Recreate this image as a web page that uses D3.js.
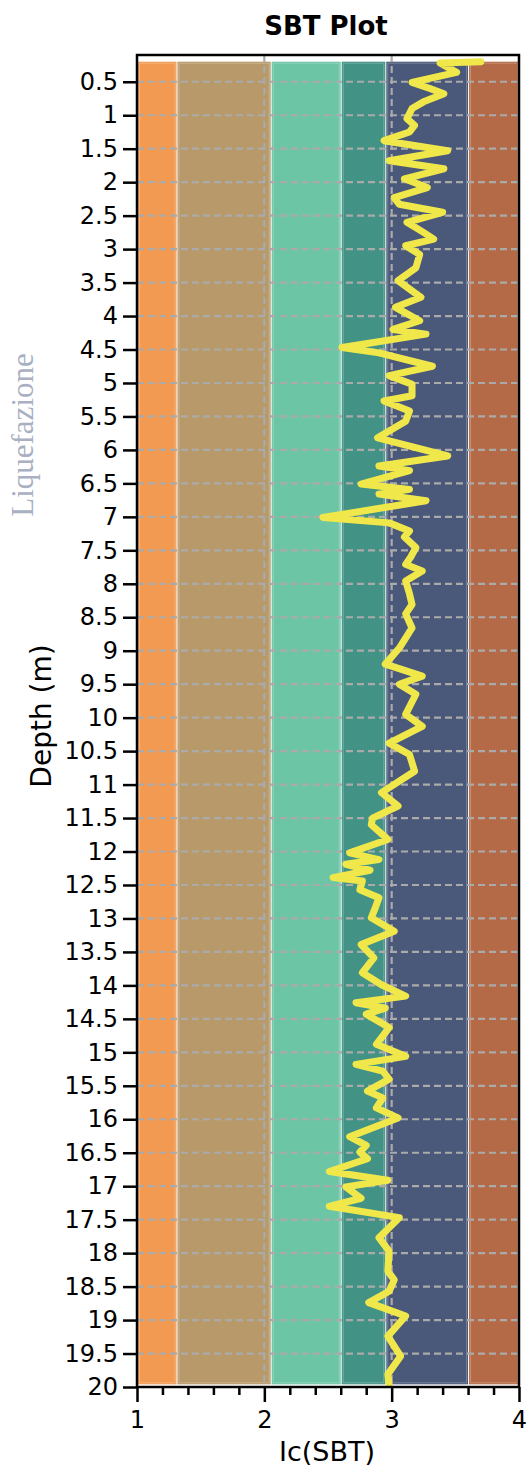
<!DOCTYPE html>
<html lang="en">
<head>
    <meta charset="UTF-8">
    <title>SBT Plot</title>
    <script src="https://d3js.org/d3.v7.min.js"></script>
    <style>
        body { margin: 0; background: #fff; }
        text { font-family: "DejaVu Sans", Verdana, sans-serif; }
    </style>
</head>
<body>
    <div id="chart-container"></div>

    <script>
        // Ic(SBT) profile
        const depth = [0.20, 0.22, 0.36, 0.51, 0.60, 0.68, 0.80, 0.90, 1.05, 1.15, 1.25, 1.38, 1.53, 1.68, 1.80, 1.95,
            2.08, 2.23, 2.33, 2.45, 2.60, 2.75, 2.85, 2.95, 3.08, 3.28, 3.47, 3.72, 3.87, 4.07, 4.20, 4.27,
            4.47, 4.55, 4.75, 4.89, 5.02, 5.19, 5.27, 5.42, 5.57, 5.82, 6.09, 6.24, 6.31, 6.51, 6.59, 6.66,
            6.76, 7.01, 7.09, 7.21, 7.30, 7.46, 7.60, 7.71, 7.81, 7.96, 8.15, 8.31, 8.45, 8.66, 8.96, 9.20,
            9.38, 9.50, 9.65, 9.95, 10.13, 10.38, 10.55, 10.80, 11.12, 11.32, 11.50, 11.60, 11.82, 12.02, 12.12, 12.19,
            12.28, 12.39, 12.44, 12.57, 12.69, 12.85, 12.99, 13.19, 13.39, 13.59, 13.81, 13.99, 14.16, 14.26, 14.34, 14.43,
            14.63, 14.88, 15.06, 15.18, 15.28, 15.40, 15.58, 15.68, 15.83, 15.98, 16.26, 16.39, 16.49, 16.59, 16.78, 16.91,
            17.01, 17.18, 17.30, 17.47, 17.77, 17.97, 18.27, 18.40, 18.57, 18.74, 18.94, 19.24, 19.54, 19.81, 19.96];
        const ic = [3.70, 3.38, 3.51, 3.16, 3.30, 3.41, 3.25, 3.16, 3.12, 3.18, 3.14, 2.94, 3.44, 2.98, 3.41, 3.10,
            3.28, 3.02, 3.06, 3.40, 3.12, 3.25, 3.33, 3.11, 3.22, 3.19, 3.05, 3.23, 3.03, 3.22, 3.01, 3.27,
            2.61, 2.90, 3.32, 2.98, 3.16, 3.16, 2.94, 3.14, 3.11, 2.89, 3.44, 2.90, 3.14, 2.76, 3.14, 2.90,
            3.27, 2.46, 2.98, 3.14, 3.10, 3.19, 3.15, 3.11, 3.24, 3.11, 3.14, 3.16, 3.11, 3.16, 3.06, 2.95,
            3.24, 3.06, 3.19, 3.11, 3.24, 2.98, 3.14, 3.18, 2.92, 3.05, 2.85, 2.84, 2.97, 2.67, 2.90, 2.64,
            2.83, 2.54, 2.77, 2.75, 2.90, 2.87, 2.84, 3.02, 2.76, 2.86, 2.77, 2.92, 3.11, 2.72, 2.95, 2.80,
            2.98, 2.88, 3.11, 2.72, 2.93, 2.98, 2.81, 2.93, 2.88, 3.05, 2.67, 2.80, 2.75, 2.81, 2.51, 2.97,
            2.64, 2.76, 2.51, 3.06, 2.90, 2.98, 2.97, 3.02, 2.98, 2.82, 3.11, 2.97, 3.07, 2.97, 2.98];

        // SBT zone limits on Ic
        const zoneLimits = [1, 1.31, 2.05, 2.6, 2.95, 3.6, 4];
        const zoneColors = ["#f29a52", "#b89a6a", "#6cc6a6", "#429285", "#4a5979", "#b46a46"];

        const depthTicks = d3.range(0.5, 20.01, 0.5);
        const icTicks = [1, 2, 3, 4];
        const icMinor = d3.range(1, 4.001, 0.2);

        const containerWidth = 527;
        const containerHeight = 1468;
        const margins = { top: 55, right: 8, bottom: 81, left: 137 };
        const width = 382;
        const height = 1332;

        const data = depth.map((d, i) => ({ depth: d, ic: ic[i] }));

        const svg = d3.select("#chart-container")
            .append("svg")
            .attr("width", containerWidth)
            .attr("height", containerHeight);

        const g = svg.append("g")
            .attr("transform", `translate(${margins.left},${margins.top})`);

        const x = d3.scaleLinear().domain([1, 4]).range([0, width]);
        const y = d3.scaleLinear().domain([0.1, 20]).range([0, height]);

        // zone bands, spanning the depth range of the data
        const dTop = d3.min(depth), dBot = d3.max(depth);
        const zones = zoneColors.map((c, i) => ({ x0: zoneLimits[i], x1: zoneLimits[i + 1], color: c }));

        g.selectAll(".zone")
            .data(zones)
            .enter()
            .append("rect")
            .attr("class", "zone")
            .attr("x", d => x(d.x0) + 1)
            .attr("width", d => x(d.x1) - x(d.x0) - 1)
            .attr("y", y(dTop))
            .attr("height", y(dBot) - y(dTop))
            .style("fill", d => d.color);

        g.selectAll(".zone-edge")
            .data(zones)
            .enter()
            .append("rect")
            .attr("class", "zone-edge")
            .attr("x", d => x(d.x0) + 2.5)
            .attr("width", d => x(d.x1) - x(d.x0) - 4)
            .attr("y", y(dTop) + 1.5)
            .attr("height", y(dBot) - y(dTop) - 3)
            .style("fill", "none")
            .style("stroke", "rgba(255,255,255,0.25)")
            .style("stroke-width", 1);

        // grid
        g.selectAll(".hgrid")
            .data(depthTicks)
            .enter()
            .append("line")
            .attr("class", "hgrid")
            .attr("x1", 0).attr("x2", width)
            .attr("y1", d => y(d)).attr("y2", d => y(d))
            .style("stroke", "#aaaaaa")
            .style("stroke-width", 2.2)
            .style("stroke-dasharray", "7,4");

        g.selectAll(".vgrid")
            .data([2, 3])
            .enter()
            .append("line")
            .attr("class", "vgrid")
            .attr("x1", d => x(d)).attr("x2", d => x(d))
            .attr("y1", 0).attr("y2", height)
            .style("stroke", "#aaaaaa")
            .style("stroke-width", 2.2)
            .style("stroke-dasharray", "7,4");

        // Ic profile
        const line = d3.line()
            .x(d => x(d.ic))
            .y(d => y(d.depth));

        g.append("path")
            .datum(data)
            .attr("d", line)
            .style("fill", "none")
            .style("stroke", "#f0e84a")
            .style("stroke-width", 7)
            .style("stroke-linejoin", "round")
            .style("stroke-linecap", "round");

        // frame
        g.append("rect")
            .attr("width", width)
            .attr("height", height)
            .style("fill", "none")
            .style("stroke", "#000")
            .style("stroke-width", 2.5);

        // axes
        g.append("g")
            .attr("class", "axis axis-y")
            .call(d3.axisLeft(y).tickValues(depthTicks).tickSize(14).tickPadding(5).tickFormat(d => String(d)));

        g.append("g")
            .attr("class", "axis axis-x")
            .attr("transform", `translate(0, ${height})`)
            .call(d3.axisBottom(x).tickValues(icTicks).tickSize(15).tickPadding(9).tickFormat(d3.format("d")));

        g.append("g")
            .attr("transform", `translate(0, ${height})`)
            .call(d3.axisBottom(x).tickValues(icMinor.filter(v => Math.abs(v - Math.round(v)) > 0.01)).tickSize(8).tickFormat(""))
            .call(a => a.select(".domain").remove());

        g.selectAll(".axis .domain").remove();
        g.selectAll(".tick line").style("stroke", "#000").style("stroke-width", 2.5);
        g.selectAll(".tick text").style("font-size", "24px").style("fill", "#000")
            .style("font-family", "'DejaVu Sans', Verdana, sans-serif");

        // titles
        svg.append("text")
            .attr("x", margins.left + width / 2 - 2)
            .attr("y", 35)
            .attr("text-anchor", "middle")
            .style("font-size", "26px")
            .style("font-weight", "bold")
            .text("SBT Plot");

        svg.append("text")
            .attr("x", margins.left + width / 2 - 1)
            .attr("y", 1461)
            .attr("text-anchor", "middle")
            .style("font-size", "27px")
            .text("Ic(SBT)");

        svg.append("text")
            .attr("transform", "translate(51, 716) rotate(-90)")
            .attr("text-anchor", "middle")
            .style("font-size", "28px")
            .text("Depth (m)");

        svg.append("text")
            .attr("transform", "translate(33, 435) rotate(-90)")
            .attr("text-anchor", "middle")
            .style("font-family", "'Liberation Serif', 'DejaVu Serif', serif")
            .style("font-size", "31px")
            .style("fill", "#a8b0c2")
            .text("Liquefazione");
    </script>
</body>
</html>
